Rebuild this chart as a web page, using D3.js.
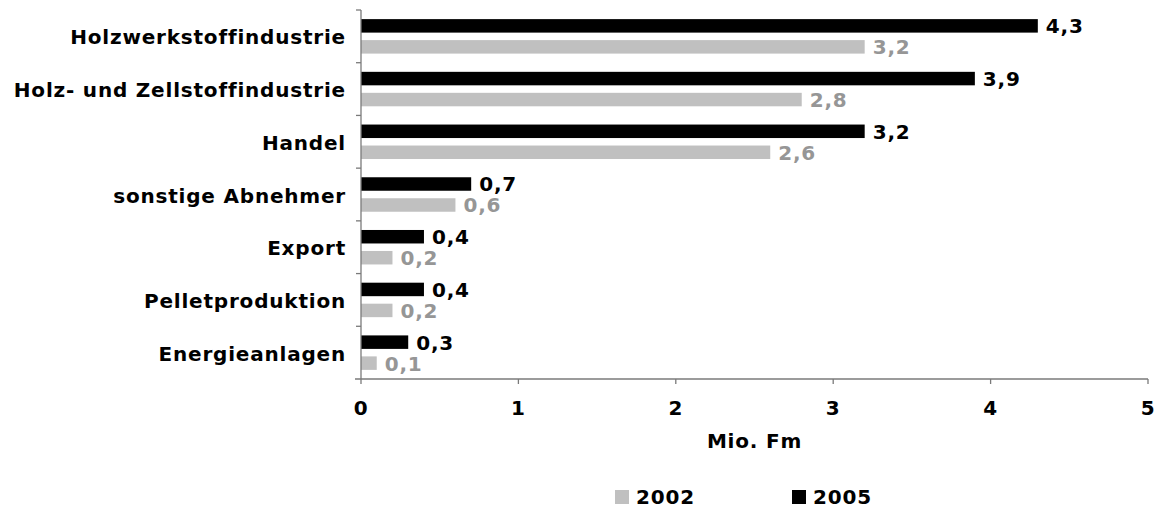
<!DOCTYPE html>
<html>
<head>
<meta charset="utf-8">
<script src="https://cdn.jsdelivr.net/npm/d3@7"></script>
<style>
  html, body { margin: 0; padding: 0; background: #fff; }
  svg { display: block; }
  text { font-family: Verdana, "DejaVu Sans", sans-serif; font-weight: bold; font-size: 20px; letter-spacing: 0.8px; }
</style>
</head>
<body>
<svg id="chart" width="1158" height="514"></svg>
<script>
// Absatz von Waldholz nach Abnehmergruppen (Mio. Fm)
const categories = [
  "Holzwerkstoffindustrie",
  "Holz- und Zellstoffindustrie",
  "Handel",
  "sonstige Abnehmer",
  "Export",
  "Pelletproduktion",
  "Energieanlagen"
];
const values2005 = [4.3, 3.9, 3.2, 0.7, 0.4, 0.4, 0.3];
const values2002 = [3.2, 2.8, 2.6, 0.6, 0.2, 0.2, 0.1];
const seriesNames = ["2005", "2002"];
const xTicks = [0, 1, 2, 3, 4, 5];
const axisTitle = "Mio. Fm";

const series = [
  { name: seriesNames[0], values: values2005, fill: "#000000", labelColor: "#000000" },
  { name: seriesNames[1], values: values2002, fill: "#c0c0c0", labelColor: "#969696" }
];

const svg = d3.select("#chart");
const plotLeft = 361, plotRight = 1148, plotTop = 10, plotBottom = 379;

const x = d3.scaleLinear().domain([0, 5]).range([plotLeft, plotRight]);
const y = d3.scaleBand().domain(categories).range([plotTop, plotBottom])
  .paddingInner(0.346).paddingOuter(0.173);
const ySub = d3.scaleBand().domain(seriesNames).range([0, y.bandwidth()])
  .paddingInner(0.357).paddingOuter(0);

const fmt = v => d3.format(".1f")(v).replace(".", ",");

// bars and value labels
series.forEach(s => {
  const g = svg.append("g");
  g.selectAll("rect").data(categories).join("rect")
    .attr("x", x(0))
    .attr("y", c => y(c) + ySub(s.name))
    .attr("width", (c, i) => x(s.values[i]) - x(0))
    .attr("height", ySub.bandwidth())
    .attr("fill", s.fill);
  g.selectAll("text").data(categories).join("text")
    .attr("x", (c, i) => x(s.values[i]) + 8)
    .attr("y", c => y(c) + ySub(s.name) + ySub.bandwidth() / 2)
    .attr("dy", "0.37em")
    .attr("fill", s.labelColor)
    .text((c, i) => fmt(s.values[i]));
});

const axisColor = "#7a7a7a";

// vertical category axis with ticks at band boundaries
svg.append("line")
  .attr("x1", plotLeft).attr("x2", plotLeft).attr("y1", plotTop).attr("y2", plotBottom)
  .attr("stroke", axisColor).attr("stroke-width", 1.3);
const bounds = categories.map(c => y(c) - y.step() * y.paddingOuter());
svg.selectAll(".ytick").data(bounds).join("line")
  .attr("class", "ytick")
  .attr("x1", plotLeft - 5).attr("x2", plotLeft)
  .attr("y1", d => d).attr("y2", d => d)
  .attr("stroke", axisColor).attr("stroke-width", 1.3);

svg.selectAll(".ylab").data(categories).join("text")
  .attr("class", "ylab")
  .attr("x", plotLeft - 15)
  .attr("y", (c, i) => plotTop + y.step() * i + y.step() / 2)
  .attr("dy", "0.4em")
  .attr("text-anchor", "end")
  .attr("fill", "#000")
  .text(c => c);

// horizontal value axis
svg.append("line")
  .attr("x1", plotLeft - 6).attr("x2", plotRight).attr("y1", plotBottom).attr("y2", plotBottom)
  .attr("stroke", axisColor).attr("stroke-width", 1.3);
svg.selectAll(".xtick").data(xTicks).join("line")
  .attr("class", "xtick")
  .attr("x1", d => x(d)).attr("x2", d => x(d))
  .attr("y1", plotBottom).attr("y2", plotBottom + 5)
  .attr("stroke", axisColor).attr("stroke-width", 1.3);
svg.selectAll(".xlab").data(xTicks).join("text")
  .attr("class", "xlab")
  .attr("x", d => x(d))
  .attr("y", 408)
  .attr("dy", "0.37em")
  .attr("text-anchor", "middle")
  .text(d => d);

svg.append("text")
  .attr("x", (plotLeft + plotRight) / 2)
  .attr("y", 441)
  .attr("dy", "0.37em")
  .attr("text-anchor", "middle")
  .text(axisTitle);

// legend
const legend = [
  { name: seriesNames[1], fill: "#c0c0c0", x: 615 },
  { name: seriesNames[0], fill: "#000000", x: 792 }
];
const lg = svg.selectAll(".leg").data(legend).join("g").attr("class", "leg");
lg.append("rect")
  .attr("x", d => d.x).attr("y", 490)
  .attr("width", 14).attr("height", 14)
  .attr("fill", d => d.fill);
lg.append("text")
  .attr("x", d => d.x + 21)
  .attr("y", 497)
  .attr("dy", "0.37em")
  .text(d => d.name);
</script>
</body>
</html>
